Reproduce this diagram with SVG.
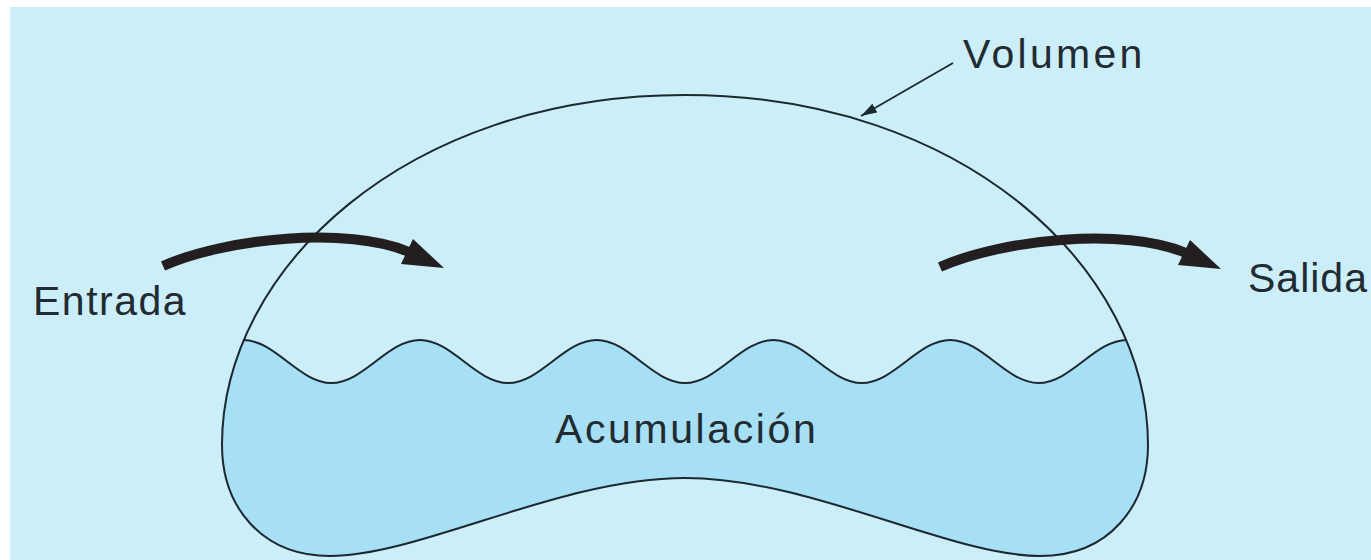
<svg xmlns="http://www.w3.org/2000/svg" xmlns:xlink="http://www.w3.org/1999/xlink" width="1371" height="560" viewBox="0 0 1371 560">
<style>
.lbl{font-family:"Liberation Sans",Arial,Helvetica,sans-serif;font-size:41px;fill:#222b31;letter-spacing:1.5px}
.outline{fill:none;stroke:#1b2830;stroke-width:2}
.thin{fill:none;stroke:#1b2830;stroke-width:1.8}
.thick{fill:none;stroke:#231f20;stroke-width:10;stroke-linecap:butt}
</style>
<defs>
<clipPath id="vesselClip">
<path id="vesselPath" d="M222,445 C222,505 260,556 330,556 C420,556 560,478 685,478 C810,478 950,556 1040,556 C1110,556 1148,505 1148,445 C1148,270 965,95 685,95 C405,95 222,270 222,445 Z"/>
</clipPath>
<marker id="thinHead" viewBox="0 0 16 10" refX="16" refY="5" markerWidth="16" markerHeight="10" markerUnits="userSpaceOnUse" orient="auto">
<path d="M0,0 L16,5 L0,10 Z" fill="#1b2830"/>
</marker>
<g id="flowArrow">
<path class="thick" d="M163,266 C226,238 348,226 409,252"/>
<polygon points="444,268 413,239 401,264" fill="#231f20"/>
</g>
</defs>
<rect x="10" y="7" width="1361" height="553" fill="#cbeef9"/>
<g id="vessel">
<path clip-path="url(#vesselClip)" fill="#a7dff5" d="M243,340 C275.1,340 299.3,383 331.4,383 C363.5,383 387.7,340 419.8,340 C451.9,340 476.1,383 508.2,383 C540.3,383 564.5,340 596.6,340 C628.7,340 652.9,383 685,383 C717.1,383 741.3,340 773.4,340 C805.5,340 829.7,383 861.8,383 C893.9,383 918.1,340 950.2,340 C982.3,340 1006.5,383 1038.6,383 C1070.7,383 1094.9,340 1127,340 L1200,340 L1200,600 L180,600 L180,340 Z"/>
<path class="outline" d="M243,340 C275.1,340 299.3,383 331.4,383 C363.5,383 387.7,340 419.8,340 C451.9,340 476.1,383 508.2,383 C540.3,383 564.5,340 596.6,340 C628.7,340 652.9,383 685,383 C717.1,383 741.3,340 773.4,340 C805.5,340 829.7,383 861.8,383 C893.9,383 918.1,340 950.2,340 C982.3,340 1006.5,383 1038.6,383 C1070.7,383 1094.9,340 1127,340"/>
<use xlink:href="#vesselPath" class="outline"/>
</g>
<g id="connectors">
<use id="inflow" xlink:href="#flowArrow"/>
<use id="outflow" xlink:href="#flowArrow" transform="translate(777,1)"/>
<line id="volumeLeader" class="thin" x1="953" y1="63" x2="861" y2="116" marker-end="url(#thinHead)"/>
</g>
<g id="label-volumen"><text class="lbl" x="963" y="68" style="letter-spacing:3.3px">Volumen</text></g>
<g id="label-entrada"><text class="lbl" x="33" y="315">Entrada</text></g>
<g id="label-salida"><text class="lbl" x="1248" y="292" style="letter-spacing:1px">Salida</text></g>
<g id="label-acumulacion"><text class="lbl" x="555" y="443" style="letter-spacing:2.6px">Acumulación</text></g>
</svg>
